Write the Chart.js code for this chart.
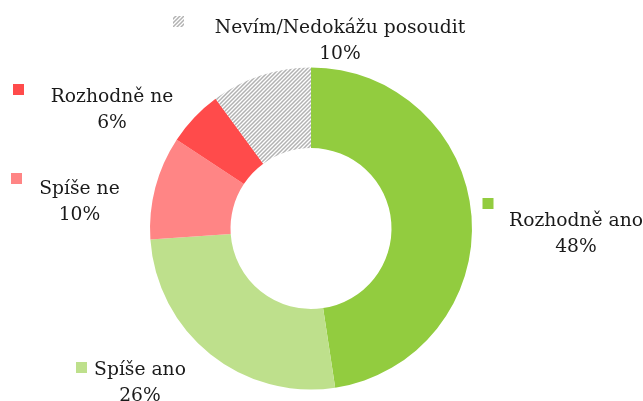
<!DOCTYPE html>
<html><head><meta charset="utf-8">
<script src="https://cdn.jsdelivr.net/npm/chart.js@4/dist/chart.umd.min.js"></script>
<style>html,body{margin:0;padding:0;background:#fff}#wrap{width:643px;height:401px;position:relative}</style>
</head><body><div id="wrap"><canvas id="c" width="643" height="401"></canvas></div>
<script>
const categories = ['Rozhodně ano', 'Spíše ano', 'Spíše ne', 'Rozhodně ne', 'Nevím/Nedokážu posoudit'];
const values = [47.6, 26.3, 10.4, 5.6, 10.1];
const percentLabels = ['48%', '26%', '10%', '6%', '10%'];
const sliceColors = ['#92CC3F', '#BEE08C', '#FF8585', '#FF4B4B', 'hatch'];
// label layout relative to doughnut centre (px): text centre x / first baseline, and key centre
const labelTextOffsets = [[265, -2.5], [-171, 146.5], [-231.5, -34.5], [-199, -126.5], [29, -195.5]];
const labelKeyOffsets = [[177, -25], [-229.5, 139], [-294.5, -50], [-292.5, -139], [-132.5, -207]];

const canvas = document.getElementById('c');
const ctx = canvas.getContext('2d');

function makeHatch() {
  const s = 4;
  const p = document.createElement('canvas');
  p.width = s; p.height = s;
  const g = p.getContext('2d');
  g.fillStyle = '#ffffff'; g.fillRect(0, 0, s, s);
  g.strokeStyle = '#b2b2b2'; g.lineWidth = 1.5;
  g.beginPath();
  g.moveTo(-1, s + 1); g.lineTo(s + 1, -1);
  g.moveTo(-1, 1); g.lineTo(1, -1);
  g.moveTo(s - 1, s + 1); g.lineTo(s + 1, s - 1);
  g.stroke();
  return ctx.createPattern(p, 'repeat');
}
const hatch = makeHatch();
const bg = sliceColors.map(c => c === 'hatch' ? hatch : c);

const labelPlugin = {
  id: 'outLabels',
  afterDraw(chart) {
    const meta = chart.getDatasetMeta(0);
    const c = chart.ctx;
    c.save();
    c.font = '18.7px "DejaVu Serif"';
    c.textAlign = 'center';
    c.textBaseline = 'alphabetic';
    meta.data.forEach((arc, i) => {
      const cx = arc.x, cy = arc.y;
      const [tx, ty] = labelTextOffsets[i];
      const [kx, ky] = labelKeyOffsets[i];
      c.fillStyle = bg[i];
      c.fillRect(cx + kx - 5.5, cy + ky - 5.5, 11, 11);
      c.fillStyle = '#1a1a1a';
      c.fillText(categories[i], cx + tx, cy + ty);
      c.fillText(percentLabels[i], cx + tx, cy + ty + 26);
    });
    c.restore();
  }
};

new Chart(ctx, {
  type: 'doughnut',
  data: {
    labels: categories,
    datasets: [{ data: values, backgroundColor: bg, borderWidth: 0, hoverOffset: 0 }]
  },
  options: {
    responsive: false,
    animation: false,
    events: [],
    cutout: '50%',
    layout: { padding: { top: 67.5, bottom: 11.5, left: 0, right: 21 } },
    plugins: { legend: { display: false }, tooltip: { enabled: false } }
  },
  plugins: [labelPlugin]
});
</script>
</body></html>
